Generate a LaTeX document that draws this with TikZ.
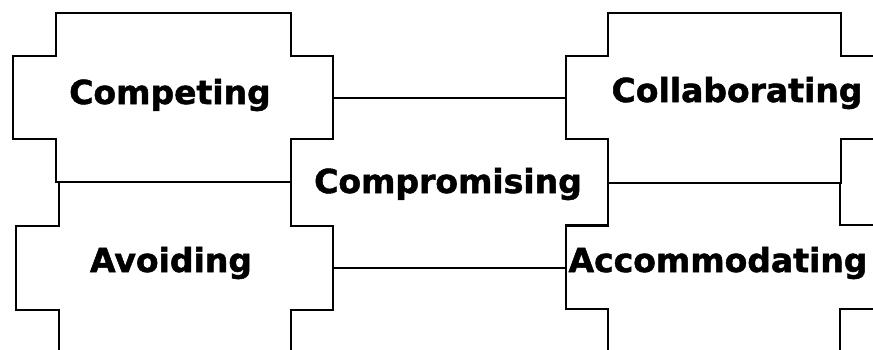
\documentclass[tikz,border=0pt]{standalone}
\usepackage{fontspec}
\setmainfont{DejaVu Sans}
\newfontfamily\heavyfont{DejaVu Sans Bold}[FakeBold=1.5]
\begin{document}
\begin{tikzpicture}[x=1pt,y=-1pt,
  shapeline/.style={draw=black,line width=1.8pt,line join=miter},
  txt/.style={font=\heavyfont\fontsize{33}{40}\selectfont,anchor=base,inner sep=0pt}]
\useasboundingbox (0,0) rectangle (873,349);
\begin{scope}
\clip (0,0) rectangle (873,349);
% Competing
\draw[shapeline] (56,13) -- (291,13) -- (291,56) -- (333,56) -- (333,139) -- (291,139) -- (291,182) -- (56,182) -- (56,139) -- (13,139) -- (13,56) -- (56,56) -- cycle;
% Avoiding
\draw[shapeline] (59,182) -- (291,182) -- (291,226) -- (333,226) -- (333,310) -- (291,310) -- (291,360) -- (59,360) -- (59,310) -- (16,310) -- (16,226) -- (59,226) -- cycle;
% Compromising
\draw[shapeline] (333,98) -- (566,98) -- (566,139) -- (608,139) -- (608,226) -- (566,226) -- (566,268) -- (333,268) -- (333,226) -- (291,226) -- (291,139) -- (333,139) -- cycle;
% Collaborating
\draw[shapeline] (608,13) -- (841,13) -- (841,56) -- (883,56) -- (883,139) -- (841,139) -- (841,183) -- (608,183) -- (608,139) -- (566,139) -- (566,56) -- (608,56) -- cycle;
% Accommodating
\draw[shapeline] (608,183) -- (840,183) -- (840,225) -- (882,225) -- (882,309) -- (840,309) -- (840,360) -- (608,360) -- (608,309) -- (566,309) -- (566,225) -- (608,225) -- cycle;
\end{scope}
\node[txt] (competing) at (170,104) {Competing};
\node[txt] (avoiding) at (171,272) {Avoiding};
\node[txt] (compromising) at (448,193) {Compromising};
\node[txt] (collaborating) at (737,102) {Collaborating};
\node[txt] (accommodating) at (718,272) {Accommodating};
\end{tikzpicture}
\end{document}
